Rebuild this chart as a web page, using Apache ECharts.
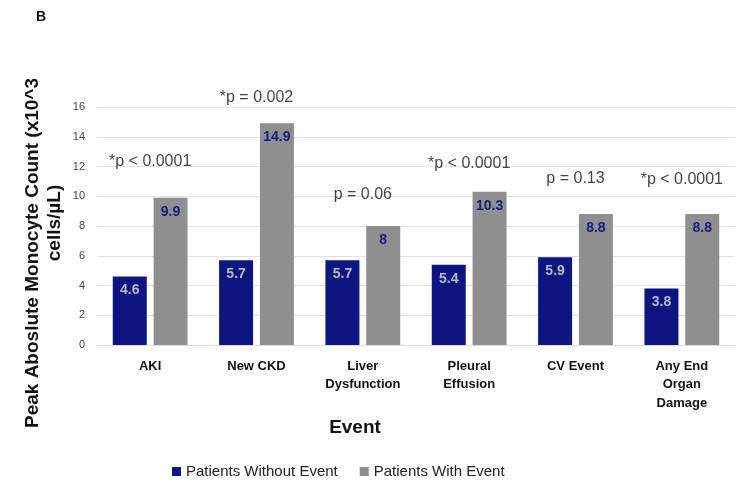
<!DOCTYPE html>
<html>
<head>
<meta charset="utf-8">
<script src="https://cdn.jsdelivr.net/npm/echarts@6/dist/echarts.min.js"></script>
<style>
  html, body { margin: 0; padding: 0; background: #fff; }
  #chart { width: 738px; height: 481px; }
</style>
</head>
<body>
<div id="chart"></div>
<script>
// Peak absolute monocyte count by end-organ event
const categories = ['AKI', 'New CKD', 'Liver\nDysfunction', 'Pleural\nEffusion', 'CV Event', 'Any End\nOrgan\nDamage'];
const withoutEvent = [4.6, 5.7, 5.7, 5.4, 5.9, 3.8];
const withEvent = [9.9, 14.9, 8, 10.3, 8.8, 8.8];
const pValues = ['*p < 0.0001', '*p = 0.002', 'p = 0.06', '*p < 0.0001', 'p = 0.13', '*p < 0.0001'];
const yTicks = [0, 2, 4, 6, 8, 10, 12, 14, 16];

// vertical placement of each p-value note, in axis units
const pLabelHeights = [12.3, 16.6, 10.1, 12.2, 11.2, 11.1];

const FONT = "'Liberation Sans', Arial, sans-serif";
const NAVY = '#0c1580';
const GREY = '#8f8f8f';

const chart = echarts.init(document.getElementById('chart'));

chart.setOption({
  animation: false,
  textStyle: { fontFamily: FONT },
  grid: { left: 97, right: 3, top: 107, bottom: 136 },
  legend: {
    data: ['Patients Without Event', 'Patients With Event'],
    left: 167, top: 459,
    icon: 'rect', itemWidth: 9, itemHeight: 9, itemGap: 22,
    textStyle: { fontSize: 15, color: '#222', fontFamily: FONT }
  },
  xAxis: {
    type: 'category',
    data: categories,
    axisTick: { show: false },
    axisLine: { lineStyle: { color: '#dcdce6' } },
    axisLabel: {
      interval: 0, margin: 12, fontSize: 13, fontWeight: 'bold',
      color: '#111', lineHeight: 18.5, fontFamily: FONT
    }
  },
  yAxis: {
    type: 'value',
    min: yTicks[0], max: yTicks[yTicks.length - 1], interval: 2,
    axisLine: { show: false },
    axisTick: { show: false },
    axisLabel: { fontSize: 11, color: '#444', margin: 12, fontFamily: FONT },
    splitLine: { lineStyle: { color: '#e2e2ec' } }
  },
  series: [
    {
      name: 'Patients Without Event',
      type: 'bar',
      data: withoutEvent,
      barWidth: 34,
      barGap: '20%',
      itemStyle: { color: NAVY },
      label: {
        show: true, position: 'insideTop', distance: 7,
        fontSize: 14, fontWeight: 'bold', color: '#b9b9c0', fontFamily: FONT
      }
    },
    {
      name: 'Patients With Event',
      type: 'bar',
      data: withEvent,
      barWidth: 34,
      itemStyle: { color: GREY },
      label: {
        show: true, position: 'insideTop', distance: 7,
        fontSize: 14, fontWeight: 'bold', color: '#16207e', fontFamily: FONT
      }
    },
    {
      name: 'p-values',
      type: 'scatter',
      symbolSize: 0,
      clip: false,
      silent: true,
      data: pLabelHeights.map((h, i) => [i, h]),
      label: {
        show: true, position: 'inside',
        formatter: p => pValues[p.dataIndex],
        fontSize: 16, color: '#111', fontFamily: FONT
      }
    }
  ],
  graphic: [
    {
      type: 'text', left: 36, top: 10,
      style: { text: 'B', font: "bold 14px " + FONT, fill: '#111' }
    },
    {
      type: 'text', x: 33, y: 253, rotation: Math.PI / 2,
      style: {
        text: 'Peak Aboslute Monocyte Count (x10^3', font: "bold 19px " + FONT,
        fill: '#111', align: 'center', verticalAlign: 'middle'
      }
    },
    {
      type: 'text', x: 55, y: 223, rotation: Math.PI / 2,
      style: {
        text: 'cells/µL)', font: "bold 19px " + FONT,
        fill: '#111', align: 'center', verticalAlign: 'middle'
      }
    },
    {
      type: 'text', x: 355, y: 428,
      style: {
        text: 'Event', font: "bold 19px " + FONT,
        fill: '#111', align: 'center', verticalAlign: 'middle'
      }
    }
  ]
});
</script>
</body>
</html>
